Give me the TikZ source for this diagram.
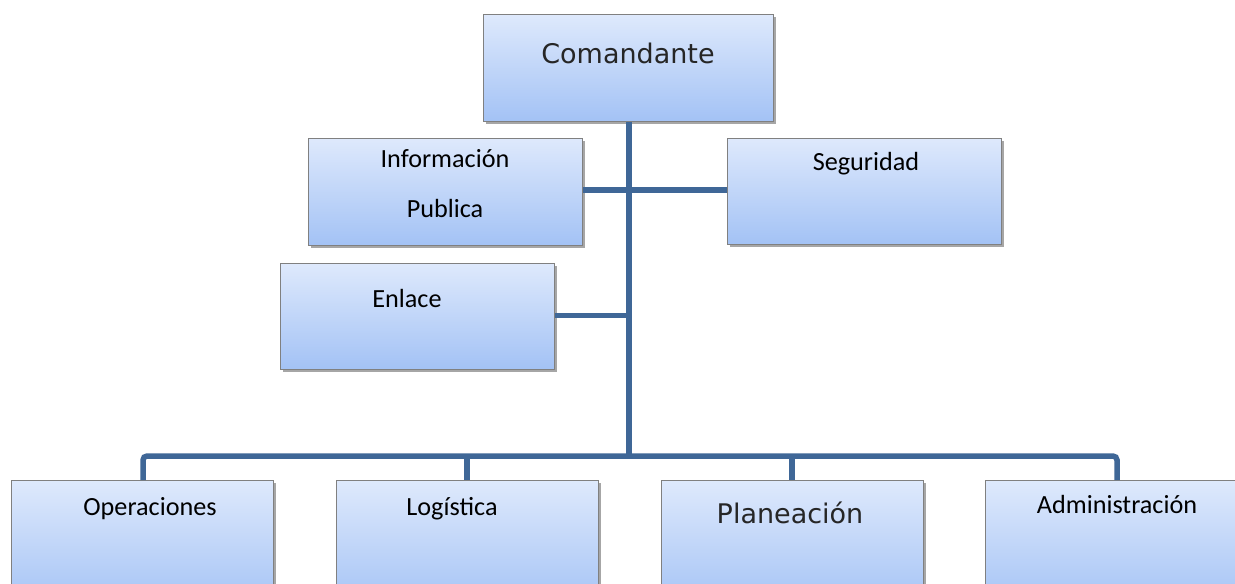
\documentclass[tikz,border=0pt]{standalone}
\usepackage{fontspec}
\setmainfont{Carlito}
\newfontfamily\wide{DejaVu Sans}
\usetikzlibrary{shadows}
\definecolor{boxtop}{RGB}{222,233,252}
\definecolor{boxbot}{RGB}{163,194,245}
\definecolor{boxline}{RGB}{128,128,128}
\definecolor{conn}{RGB}{63,103,151}
\tikzset{
  orgbox/.style={rectangle, draw=boxline, line width=0.9pt, top color=boxtop, bottom color=boxbot,
    drop shadow={shadow xshift=2.5pt, shadow yshift=-2.5pt, opacity=0.35, fill=black},
    inner sep=0pt, anchor=north west},
  lbl/.style={anchor=base, inner sep=0pt, font=\fontsize{26.2}{30}\selectfont, text=black},
  wlbl/.style={anchor=base, inner sep=0pt, font=\wide\fontsize{27}{30}\selectfont, text=black!85},
  link/.style={draw=conn, line width=5.5pt},
}
\begin{document}
\begin{tikzpicture}[x=1pt,y=-1pt]
\useasboundingbox (0,0) rectangle (1235,584);
\clip (0,0) rectangle (1235,584);
% boxes
\node[orgbox, minimum width=290pt, minimum height=107pt] (com) at (483,14) {};
\node[orgbox, minimum width=274pt, minimum height=107pt] (info) at (308,138) {};
\node[orgbox, minimum width=274pt, minimum height=106pt] (seg) at (727,138) {};
\node[orgbox, minimum width=274pt, minimum height=106pt] (enl) at (280,263) {};
\node[orgbox, minimum width=262pt, minimum height=130pt] (ope) at (11,480) {};
\node[orgbox, minimum width=262pt, minimum height=130pt] (log) at (336,480) {};
\node[orgbox, minimum width=262pt, minimum height=130pt] (pla) at (661,480) {};
\node[orgbox, minimum width=262pt, minimum height=130pt] (adm) at (985,480) {};
% labels
\node[wlbl] (tcom) at (628,63) {Comandante};
\node[lbl] (tinfo1) at (445,167) {Información};
\node[lbl] (tinfo2) at (445,217) {Publica};
\node[lbl] (tseg) at (866,170) {Seguridad};
\node[lbl] (tenl) at (407,307) {Enlace};
\node[lbl] (tope) at (150,515) {Operaciones};
\node[lbl] (tlog) at (452,515) {Logística};
\node[wlbl] (tpla) at (790,523) {Planeación};
\node[lbl] (tadm) at (1117,513) {Administración};
% connectors
\coordinate (bus) at (629,456);
\draw[link] (com.south -| bus) -- (bus);
\draw[link] (info.east |- 0,190) -- (seg.west |- 0,190);
\draw[link] (enl.east |- 0,315.5) -- (bus |- 0,315.5);
\draw[link, rounded corners=4pt] (143,0 |- ope.north) -- (143,456) -- (1117,456) -- (1117,0 |- adm.north);
\draw[link] (467,456) -- (467,0 |- log.north);
\draw[link] (792,456) -- (792,0 |- pla.north);
\end{tikzpicture}
\end{document}
